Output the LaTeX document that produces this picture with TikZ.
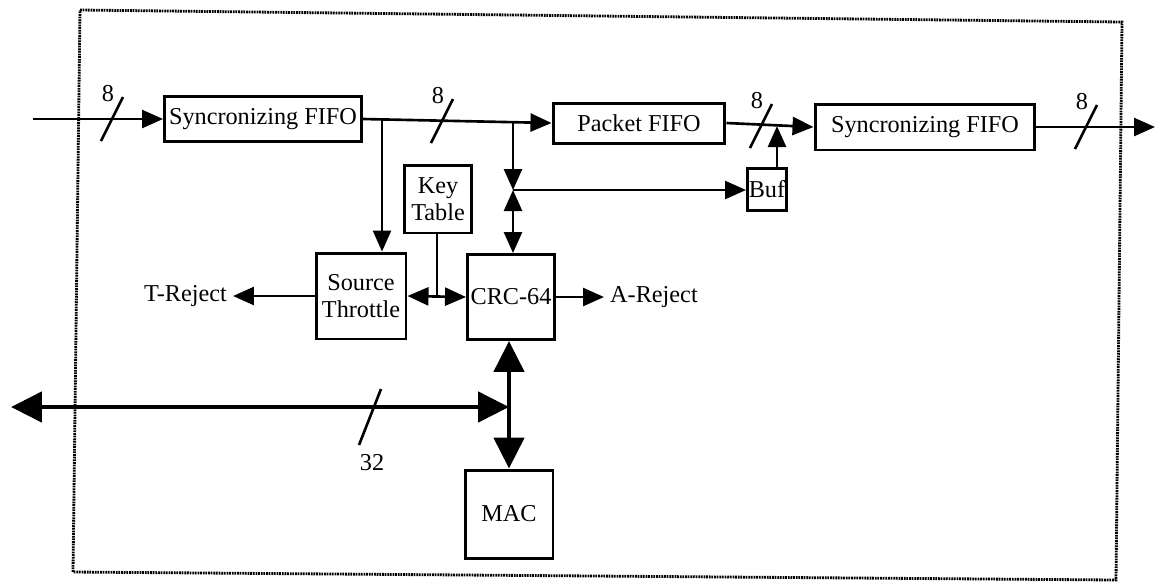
\documentclass[tikz,border=0pt]{standalone}
\usepackage{fontspec}
\setmainfont{Liberation Serif}
\usetikzlibrary{arrows.meta}
\newcommand{\eightmark}[2]{
\begin{scope}[shift={(#1,#2)}]
    \draw[sig] (-11,22) -- (11,-22);
    \node (w#1) at (-4,-25) {8};
\end{scope}
}
\tikzset{
    every node/.style={font=\fontsize{13.8}{15.5}\selectfont},
    blk/.style={draw, line width=1.7pt, inner sep=0pt, align=center},
    sig/.style={line width=1.5pt, >={Triangle[length=0.42cm,width=0.36cm]}},
    fat/.style={line width=2.8pt, >={Triangle[length=0.62cm,width=0.6cm]}},
    frame/.style={dash pattern=on 1pt off 0.5pt, line width=1.6pt}
}

\begin{document}
\begin{tikzpicture}[x=0.02cm,y=-0.02cm]
    \useasboundingbox (0,0) rectangle (1156,583);
    \draw[frame] (80,10) -- (1122,22) -- (1116,580) -- (73,572) -- cycle;
    % blocks
    \node[blk, minimum width=3.94cm, minimum height=0.9cm] (sync1) at (263,119) {Syncronizing FIFO};
    \node[blk, minimum width=3.44cm, minimum height=0.8cm] (pfifo) at (639,123) {Packet FIFO};
    \node[blk, minimum width=4.4cm, minimum height=0.92cm] (sync2) at (925,127) {Syncronizing FIFO};
    \node[blk, minimum width=0.78cm, minimum height=0.84cm] (buf) at (767,189) {Buf};
    \node[blk, minimum width=1.34cm, minimum height=1.36cm] (keytab) at (438,199) {Key\\Table};
    \node[blk, minimum width=1.8cm, minimum height=1.72cm] (throttle) at (361,296) {Source\\Throttle};
    \node[blk, minimum width=1.74cm, minimum height=1.7cm] (crc) at (511,297) {CRC-64};
    \node[blk, minimum width=1.76cm, minimum height=1.76cm] (mac) at (509,514) {MAC};
    \node[anchor=east] (trej) at (233,296) {T-Reject};
    \node[anchor=west] (arej) at (604,297) {A-Reject};
    \coordinate (in) at (33,119);
    \coordinate (out) at (1155,127);
    \coordinate (tap) at (382,120);
    \coordinate (split) at (513,121);
    \coordinate (hub) at (513,190);
    \coordinate (merge) at (777,126);
    \coordinate (key) at (437,296);
    \coordinate (busend) at (11,407);
    \coordinate (bushub) at (509,407);
    % data path
    \draw[sig,->] (in) -- (sync1.west);
    \draw[sig,->] (sync1.east) -- (pfifo.west);
    \draw[sig,->] (pfifo.east) -- (sync2.west);
    \draw[sig,->] (sync2.east) -- (out);
    \eightmark{112}{119}
    \eightmark{442}{121}
    \eightmark{761}{126}
    \eightmark{1086}{127}
    \draw[sig,->] (tap) -- (tap |- throttle.north);
    \draw[sig,->] (split) -- (hub);
    \draw[sig,<->] (hub) -- (hub |- crc.north);
    \draw[sig,->] (hub) -- (hub -| buf.west);
    \draw[sig,->] (buf.north -| merge) -- (merge);
    % checks
    \draw[sig] (keytab.south -| key) -- (key);
    \draw[sig,<->] (throttle.east) -- (crc.west);
    \draw[sig,->] (throttle.west) -- (trej.east);
    \draw[sig,->] (crc.east) -- (arej.west);
    % 32 bit bus
    \draw[fat,<->] (busend) -- (bushub);
    \draw[fat,<->] (bushub |- crc.south) -- (bushub |- mac.north);
    \draw[sig] (359,445) -- (381,389);
    \node (wbus) at (372,463) {32};
\end{tikzpicture}
\end{document}
